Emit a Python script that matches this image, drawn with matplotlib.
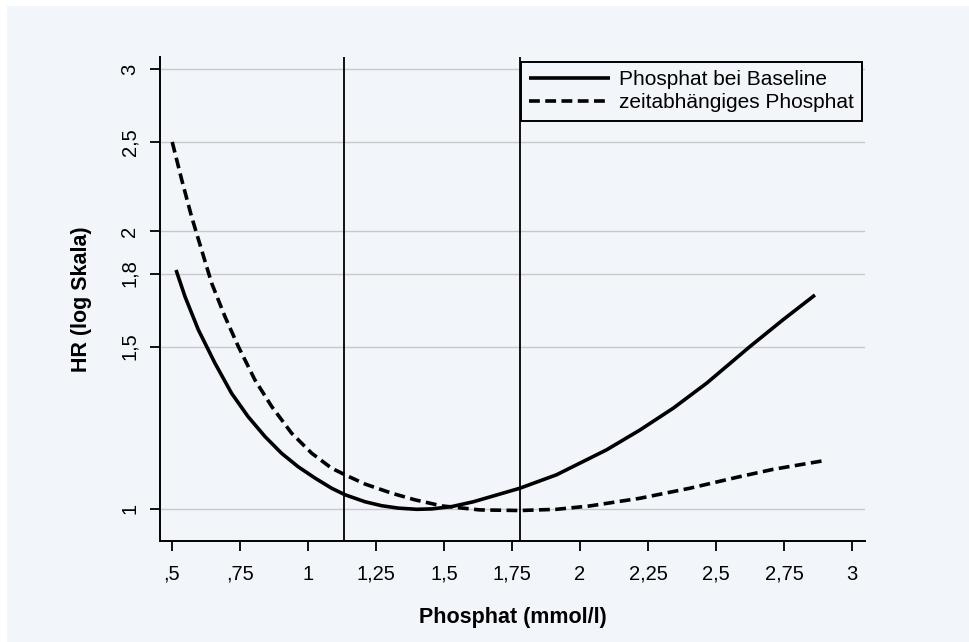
import matplotlib
matplotlib.use("Agg")
import matplotlib.pyplot as plt
from matplotlib.patches import Rectangle
from matplotlib.ticker import FixedLocator, NullLocator

plt.rcParams['font.family'] = ['Liberation Sans', 'DejaVu Sans']

# Phosphat bei Baseline (solid)
base_x = [0.515, 0.548, 0.597, 0.658, 0.719, 0.780, 0.842, 0.903, 0.964, 1.026,
          1.087, 1.136, 1.210, 1.271, 1.332, 1.40, 1.455, 1.53, 1.608, 1.779,
          1.914, 2.098, 2.221, 2.343, 2.466, 2.625, 2.747, 2.864]
base_hr = [1.816, 1.699, 1.564, 1.439, 1.335, 1.259, 1.198, 1.149, 1.111, 1.080,
           1.053, 1.036, 1.018, 1.008, 1.002, 0.999, 1.0, 1.006, 1.018, 1.053,
           1.089, 1.159, 1.218, 1.286, 1.369, 1.500, 1.604, 1.706]

# zeitabhaengiges Phosphat (dashed)
time_x = [0.501, 0.536, 0.572, 0.609, 0.646, 0.695, 0.744, 0.805, 0.867, 0.940,
          1.014, 1.087, 1.136, 1.210, 1.308, 1.393, 1.492, 1.632, 1.779, 1.914,
          2.037, 2.221, 2.404, 2.588, 2.711, 2.889]
time_hr = [2.50, 2.274, 2.075, 1.909, 1.757, 1.616, 1.500, 1.380, 1.291, 1.208,
           1.149, 1.107, 1.089, 1.064, 1.040, 1.023, 1.0075, 0.9975, 0.996, 0.999,
           1.0075, 1.027, 1.053, 1.084, 1.104, 1.127]

cutoffs = [1.132, 1.779]

x_ticks = [0.5, 0.75, 1, 1.25, 1.5, 1.75, 2, 2.25, 2.5, 2.75, 3]
x_labels = [',5', ',75', '1', '1,25', '1,5', '1,75', '2', '2,25', '2,5', '2,75', '3']
y_ticks = [1, 1.5, 1.8, 2, 2.5, 3]
y_labels = ['1', '1,5', '1,8', '2', '2,5', '3']

bg = '#f2f6fb'

fig = plt.figure(figsize=(9.7, 6.42), dpi=100, facecolor='white')
fig.patches.append(Rectangle((7 / 970, 0), 963 / 970, 636 / 642,
                             transform=fig.transFigure, facecolor=bg,
                             edgecolor='none', zorder=-10))
ax = fig.add_axes([160 / 970, 101 / 642, 705 / 970, 484 / 642])
ax.set_facecolor(bg)

ax.set_yscale('log')
ax.set_xlim(0.456, 3.048)
ax.set_ylim(0.923, 3.091)

for t in y_ticks:
    ax.axhline(t, color='#c8c8c8', lw=1.0, zorder=1)
for c in cutoffs:
    ax.axvline(c, color='black', lw=1.3, zorder=2)

ax.plot(base_x, base_hr, color='black', lw=2.6, solid_capstyle='butt',
        solid_joinstyle='round', label='Phosphat bei Baseline', zorder=3)
ax.plot(time_x, time_hr, color='black', lw=2.6, dashes=(3.0, 1.5),
        label='zeitabhängiges Phosphat', zorder=3)

ax.xaxis.set_major_locator(FixedLocator(x_ticks))
ax.set_xticklabels(x_labels)
ax.yaxis.set_major_locator(FixedLocator(y_ticks))
ax.yaxis.set_minor_locator(NullLocator())
ax.set_yticklabels(y_labels, rotation=90, va='center')
ax.tick_params(axis='both', direction='out', length=7, width=1.3,
               labelsize=14.5, color='black')
ax.tick_params(axis='x', pad=10)
ax.tick_params(axis='y', pad=8)

for s in ['top', 'right']:
    ax.spines[s].set_visible(False)
for s in ['left', 'bottom']:
    ax.spines[s].set_linewidth(1.4)

ax.set_xlabel('Phosphat (mmol/l)', fontsize=15.5, fontweight='bold', labelpad=17)
ax.set_ylabel('HR (log Skala)', fontsize=15.5, fontweight='bold', labelpad=20)

leg = ax.legend(loc='upper right', bbox_to_anchor=(0.9957, 0.9897),
                fontsize=15, frameon=True, fancybox=False, handlelength=3.9,
                borderpad=0.4, labelspacing=0.2, handletextpad=0.4,
                borderaxespad=0)
leg.get_frame().set_edgecolor('black')
leg.get_frame().set_linewidth(1.4)
leg.get_frame().set_facecolor(bg)
leg.get_frame().set_alpha(1)

fig.savefig('out.png', dpi=100, facecolor=fig.get_facecolor())
